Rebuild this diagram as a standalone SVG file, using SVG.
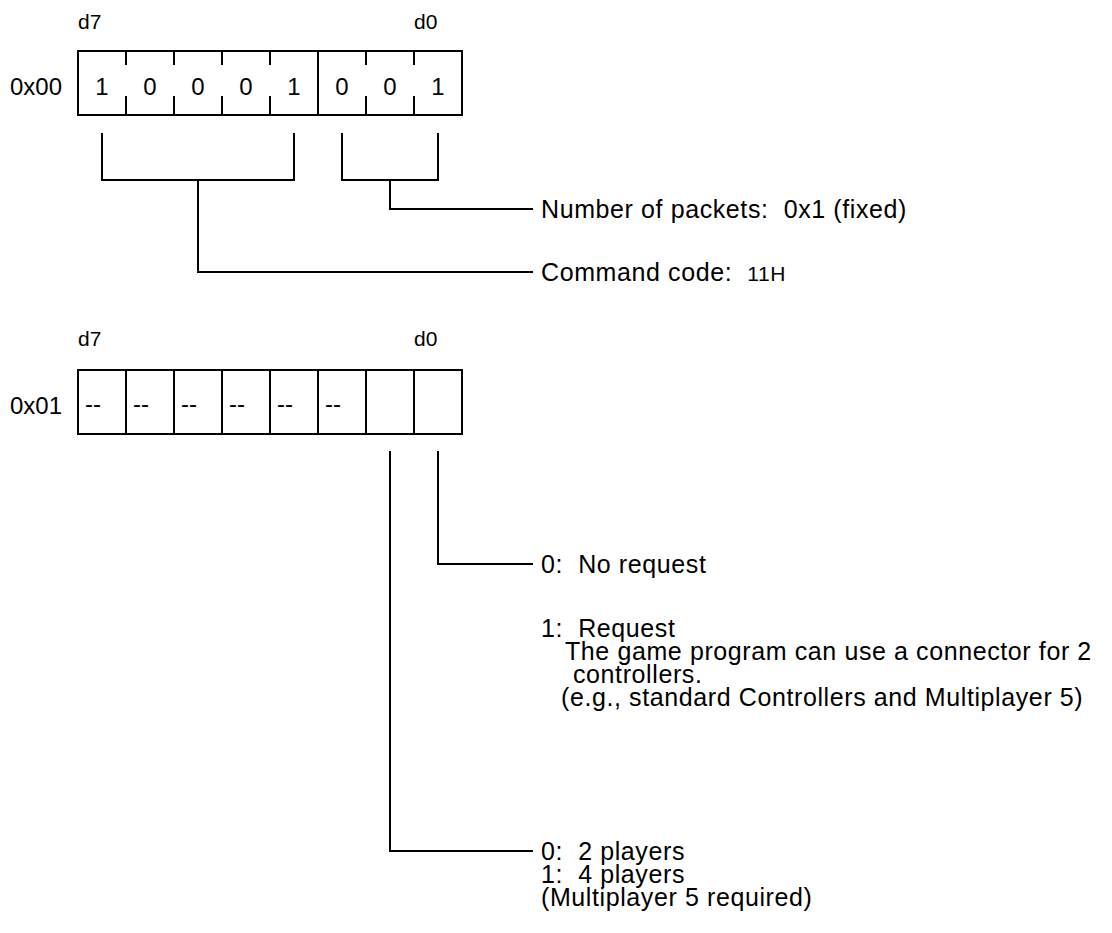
<svg xmlns="http://www.w3.org/2000/svg" width="1112" height="933" viewBox="0 0 1112 933" xml:space="preserve">
<style>
text{font-family:"Liberation Sans",Arial,sans-serif;font-size:24px;fill:#000;white-space:pre}
.sm{font-size:21px}
.bit{text-anchor:middle}
.lab{font-size:25px;letter-spacing:0.6px}
.lab .sm{font-size:21px}
.ln{stroke:#000;stroke-width:2;fill:none}
</style>
<rect width="1112" height="933" fill="#fff"/>
<g id="reg0">
<text x="78" y="29" class="sm">d7</text>
<text x="414" y="29" class="sm">d0</text>
<text x="10" y="95">0x00</text>
<rect x="78" y="51" width="384" height="64" class="ln"/>
<path class="ln" d="M126 51v14M174 51v14M222 51v14M270 51v14M366 51v14M414 51v14M126 96v19M174 96v19M222 96v19M270 96v19M366 96v19M414 96v19M318 51v64"/>
<text x="102" y="95" class="bit">1</text>
<text x="150" y="95" class="bit">0</text>
<text x="198" y="95" class="bit">0</text>
<text x="246" y="95" class="bit">0</text>
<text x="294" y="95" class="bit">1</text>
<text x="342" y="95" class="bit">0</text>
<text x="390" y="95" class="bit">0</text>
<text x="438" y="95" class="bit">1</text>
</g>
<g id="reg1">
<text x="78" y="346" class="sm">d7</text>
<text x="414" y="346" class="sm">d0</text>
<text x="10" y="414">0x01</text>
<rect x="78" y="370" width="384" height="64" class="ln"/>
<path class="ln" d="M126 370v64M174 370v64M222 370v64M270 370v64M318 370v64M366 370v64M414 370v64"/>
<text x="85" y="412">--</text>
<text x="133" y="412">--</text>
<text x="181" y="412">--</text>
<text x="229" y="412">--</text>
<text x="277" y="412">--</text>
<text x="325" y="412">--</text>
</g>
<g id="connectors">
<path class="ln" d="M102 133v47h192v-47M198 180v92h335"/>
<path class="ln" d="M342 133v47h96v-47M390 180v29h143"/>
<path class="ln" d="M438 451v113h95"/>
<path class="ln" d="M390 451v400h143"/>
</g>
<g id="labels">
<text x="541" y="218" class="lab">Number of packets:  0x1 (fixed)</text>
<text x="541" y="281" class="lab">Command code:  <tspan class="sm">11H</tspan></text>
<text x="541" y="573" class="lab">0:  No request</text>
<text x="541" y="637" class="lab">1:  Request</text>
<text x="565" y="660" class="lab">The game program can use a connector for 2</text>
<text x="573" y="683" class="lab">controllers.</text>
<text x="561" y="706" class="lab">(e.g., standard Controllers and Multiplayer 5)</text>
<text x="541" y="860" class="lab">0:  2 players</text>
<text x="541" y="883" class="lab">1:  4 players</text>
<text x="541" y="906" class="lab">(Multiplayer 5 required)</text>
</g>
</svg>
